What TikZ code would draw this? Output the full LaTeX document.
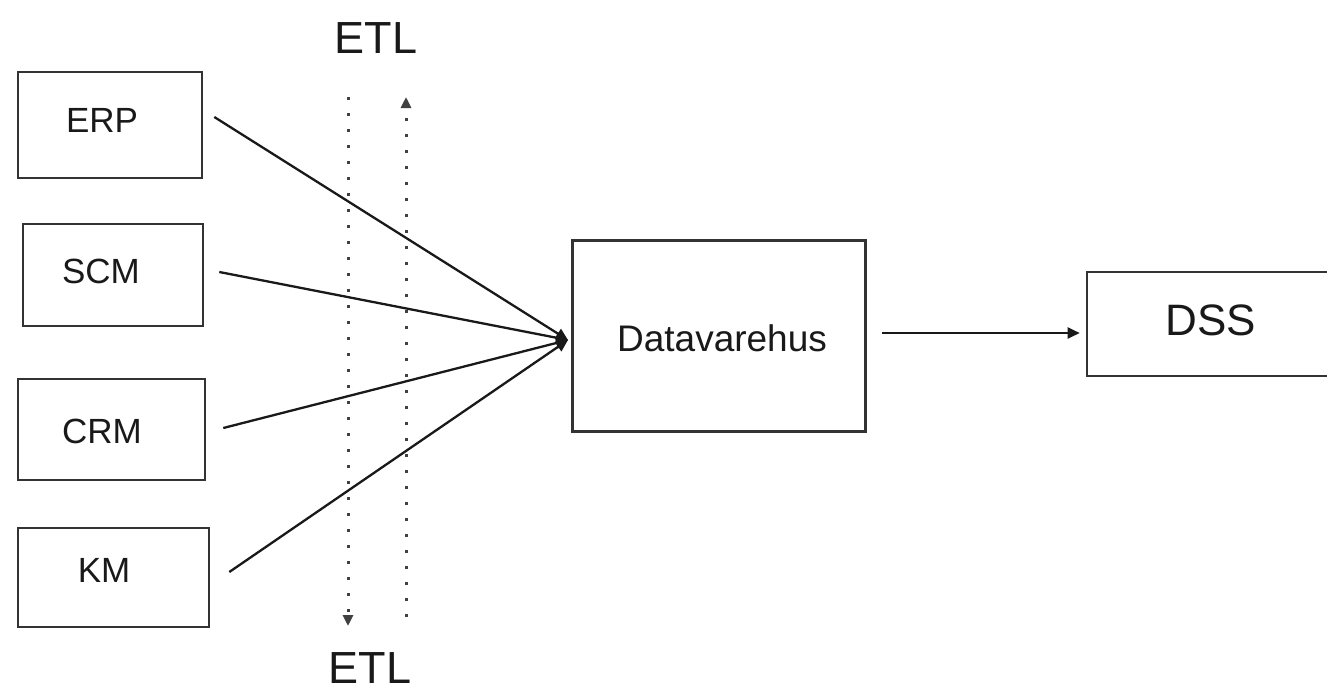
\documentclass[tikz,border=0pt]{standalone}
\usepackage{fontspec}
\setmainfont{Liberation Sans}
\usetikzlibrary{arrows.meta}
\begin{document}
\begin{tikzpicture}[x=1pt,y=-1pt,
  box/.style={draw=black!80, line width=2.6pt, rectangle, inner sep=0pt},
  lbl/.style={inner sep=0pt, text=black!90},
  conn/.style={line width=2.3pt, draw=black!90, -{Triangle[length=12pt,width=11pt]}},
  etlarrow/.style={line width=3pt, draw=black!75, dash pattern=on 3pt off 13pt, -{Triangle[length=11pt,width=10pt]}}
]
\useasboundingbox (0,0) rectangle (1327,696);
\clip (0,0) rectangle (1327,696);

% source boxes
\node[box, minimum width=184pt, minimum height=106pt] (erp) at (110,125) {};
\node[box, minimum width=180pt, minimum height=102pt] (scm) at (113,275) {};
\node[box, minimum width=187pt, minimum height=101pt] (crm) at (111.5,429.5) {};
\node[box, minimum width=191pt, minimum height=99pt]  (km)  at (113.5,577.5) {};
\node[lbl, font=\fontsize{35}{40}\selectfont] (erpt) at (102,120) {ERP};
\node[lbl, font=\fontsize{35}{40}\selectfont] (scmt) at (101,271) {SCM};
\node[lbl, font=\fontsize{35}{40}\selectfont] (crmt) at (102,431) {CRM};
\node[lbl, font=\fontsize{35}{40}\selectfont] (kmt)  at (104,570) {KM};

% warehouse and DSS
\node[box, minimum width=293pt, minimum height=191pt] (dw) at (719,336) {};
\node[lbl, font=\fontsize{37}{42}\selectfont] (dwt) at (722,338) {Datavarehus};
\node[box, minimum width=260pt, minimum height=104pt] (dss) at (1217,324) {};
\node[lbl, font=\fontsize{44}{50}\selectfont] (dsst) at (1211,320) {DSS};

% converging connectors
\coordinate (hub) at (568,340);
\draw[conn] ([shift={(11,-8)}]erp.east) -- (hub);
\draw[conn] ([shift={(15,-3)}]scm.east) -- (hub);
\draw[conn] ([shift={(17,-1.5)}]crm.east) -- (hub);
\draw[conn] ([shift={(19,-5.5)}]km.east) -- (hub);

% warehouse to DSS
\coordinate (a1) at ([shift={(15,-3)}]dw.east);
\draw[conn, shorten >=6pt] (a1) -- (a1 -| dss.west);

% ETL dotted arrows
\coordinate (d1s) at (348,97);
\coordinate (d1e) at (348,626);
\coordinate (d2s) at (406,617);
\coordinate (d2e) at (406,97);
\draw[etlarrow] (d1s) -- (d1e);
\draw[etlarrow] (d2s) -- (d2e);

% ETL labels
\node[lbl, font=\fontsize{45}{50}\selectfont] (etltop) at (376,38) {ETL};
\node[lbl, font=\fontsize{45}{50}\selectfont] (etlbot) at (370,668) {ETL};
\end{tikzpicture}
\end{document}
